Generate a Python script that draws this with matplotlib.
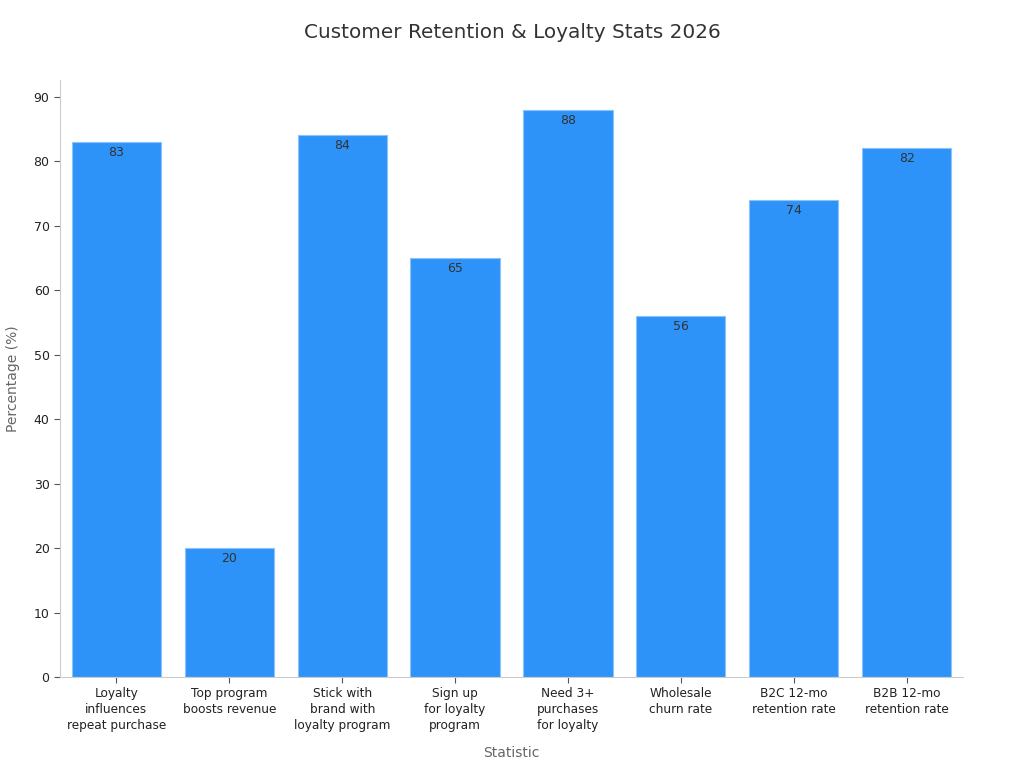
import matplotlib
matplotlib.use("Agg")
import matplotlib.pyplot as plt

categories = [
    "Loyalty\ninfluences\nrepeat purchase",
    "Top program\nboosts revenue",
    "Stick with\nbrand with\nloyalty program",
    "Sign up\nfor loyalty\nprogram",
    "Need 3+\npurchases\nfor loyalty",
    "Wholesale\nchurn rate",
    "B2C 12-mo\nretention rate",
    "B2B 12-mo\nretention rate",
]
values = [83, 20, 84, 65, 88, 56, 74, 82]
yticks = [0, 10, 20, 30, 40, 50, 60, 70, 80, 90]

fig = plt.figure(figsize=(10.24, 7.68), dpi=100)
ax = fig.add_axes([60 / 1024, 1 - 677 / 768, 903 / 1024, 597 / 768])

x = list(range(len(categories)))
bars = ax.bar(x, values, width=0.79, color="#2E93F8", edgecolor="#8CC4FA", linewidth=0.8)

for xi, v in zip(x, values):
    ax.text(xi, v - 0.6, f"{v}", ha="center", va="top", fontsize=9, color="#333333")

ax.set_xlim(-0.5, len(categories) - 0.5)
ax.set_ylim(0, 92.6)
ax.set_yticks(yticks)
ax.set_xticks(x)
ax.set_xticklabels(categories, fontsize=8.7, color="#222222", linespacing=1.3)
ax.tick_params(axis="y", labelsize=9, labelcolor="#222222", color="#555555", length=4)
ax.tick_params(axis="x", color="#555555", length=4)

for side in ["top", "right"]:
    ax.spines[side].set_visible(False)
for side in ["left", "bottom"]:
    ax.spines[side].set_color("#cccccc")

ax.set_xlabel("Statistic", fontsize=10, color="#666666", labelpad=10)
ax.set_ylabel("Percentage (%)", fontsize=10, color="#666666", labelpad=10)
fig.suptitle("Customer Retention & Loyalty Stats 2026", y=1 - 33 / 768, va="center",
             fontsize=14.4, color="#333333")

fig.savefig("out.png", dpi=100)
